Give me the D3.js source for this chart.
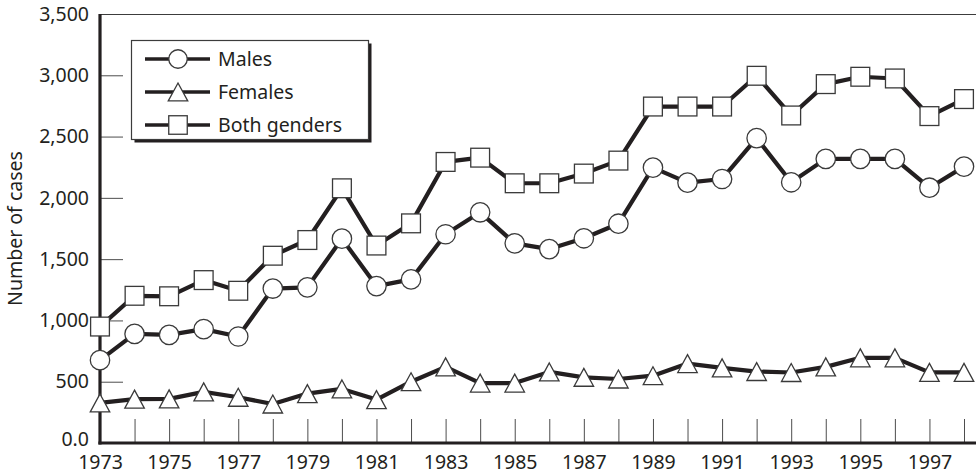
<!DOCTYPE html>
<html>
<head>
<meta charset="utf-8">
<script src="https://cdn.jsdelivr.net/npm/d3@7"></script>
<style>
  body { margin: 0; background: #fff; }
  svg { display: block; font-family: "Noto Sans", sans-serif; }
</style>
</head>
<body>
<svg id="chart" width="976" height="474"></svg>
<script>
// ----- Data -----
const years = d3.range(1973, 1999);
const males = [676, 890, 882, 929, 869, 1260, 1270, 1667, 1280, 1335, 1703, 1882, 1629,
               1582, 1670, 1789, 2247, 2124, 2154, 2487, 2127, 2318, 2318, 2318, 2083, 2255];
const females = [327, 358, 360, 417, 373, 318, 403, 441, 354, 500, 621, 489, 489,
                 580, 536, 522, 549, 648, 613, 583, 575, 621, 695, 695, 576, 576];
const both = [950, 1201, 1197, 1329, 1242, 1528, 1656, 2078, 1611, 1792, 2293, 2328, 2119,
              2119, 2198, 2304, 2745, 2745, 2745, 2996, 2672, 2928, 2988, 2974, 2667, 2806];
const yTicks = [0, 500, 1000, 1500, 2000, 2500, 3000, 3500];
const xLabelYears = d3.range(1973, 1998, 2);
const seriesNames = ["Males", "Females", "Both genders"];
const yTitle = "Number of cases";

// ----- Layout -----
const W = 976, H = 474;
const PLOT = { left: 100, right: 976, top: 14, bottom: 443 };
const INK = "#231f20";
const TICK_INK = "#4d4d4d";
const FONT_SIZE = "19.5px";

const svg = d3.select("#chart");

const x = d3.scaleLinear().domain([1973, 1998]).range([PLOT.left, 964]);
const y = d3.scaleLinear().domain([0, 3500]).range([PLOT.bottom, PLOT.top]);

// ----- Marker shapes -----
function drawMarker(g, shape, cx, cy, s) {
  if (shape === "circle") {
    g.append("circle").attr("cx", cx).attr("cy", cy).attr("r", s / 2);
  } else if (shape === "square") {
    g.append("rect").attr("x", cx - s / 2).attr("y", cy - s / 2)
      .attr("width", s).attr("height", s);
  } else {
    const h = s * 0.92;
    g.append("path").attr("d",
      `M${cx},${cy - h / 2}L${cx + s / 2},${cy + h / 2}L${cx - s / 2},${cy + h / 2}Z`);
  }
}

// ----- Axes -----
// y axis: ticks point into the plot
const yAxis = d3.axisLeft(y)
  .tickValues(yTicks)
  .tickSize(-23)
  .tickPadding(11)
  .tickFormat(d => d === 0 ? "0.0" : d3.format(",")(d));

const yG = svg.append("g").attr("transform", `translate(${PLOT.left},0)`).call(yAxis);
yG.select(".domain").remove();
yG.selectAll(".tick line")
  .attr("stroke", TICK_INK)
  .attr("stroke-width", 1)
  .filter(d => d === 0 || d === 3500).remove();
yG.selectAll("text").attr("fill", INK);
// the zero label sits a little above the axis line
yG.selectAll(".tick text").filter(d => d === 0).attr("y", -4);
yG.attr("font-family", "Noto Sans, sans-serif").attr("font-size", FONT_SIZE);

// x axis: a tick every year, labels on odd years
const xAxis = d3.axisBottom(x)
  .tickValues(years)
  .tickSize(-24)
  .tickPadding(12)
  .tickFormat(d => xLabelYears.includes(d) ? String(d) : "");

const xG = svg.append("g").attr("transform", `translate(0,${PLOT.bottom})`).call(xAxis);
xG.select(".domain").remove();
xG.selectAll(".tick line")
  .attr("stroke", TICK_INK)
  .attr("stroke-width", 1)
  .filter(d => d === 1973).remove();
xG.selectAll("text").attr("fill", INK);
xG.attr("font-family", "Noto Sans, sans-serif").attr("font-size", FONT_SIZE);

// Frame: thin top rule, heavy left and bottom axis lines
svg.append("line")
  .attr("x1", PLOT.left).attr("x2", PLOT.right)
  .attr("y1", PLOT.top + 0.5).attr("y2", PLOT.top + 0.5)
  .attr("stroke", "#3c3c3c").attr("stroke-width", 1.2);
svg.append("line")
  .attr("x1", PLOT.left).attr("x2", PLOT.left)
  .attr("y1", PLOT.top).attr("y2", PLOT.bottom + 1.5)
  .attr("stroke", INK).attr("stroke-width", 3.2);
svg.append("line")
  .attr("x1", PLOT.left - 1.6).attr("x2", PLOT.right)
  .attr("y1", PLOT.bottom).attr("y2", PLOT.bottom)
  .attr("stroke", INK).attr("stroke-width", 3.2);

// y title
svg.append("text")
  .attr("transform", `translate(22,${(PLOT.top + PLOT.bottom) / 2}) rotate(-90)`)
  .attr("text-anchor", "middle")
  .attr("font-size", FONT_SIZE)
  .attr("fill", INK)
  .text(yTitle);

// ----- Series -----
const series = [
  { name: seriesNames[0], values: males, shape: "circle", size: 19.4 },
  { name: seriesNames[1], values: females, shape: "triangle", size: 19.5 },
  { name: seriesNames[2], values: both, shape: "square", size: 18.8 }
];

const line = d3.line().x((d, i) => x(years[i])).y(d => y(d));

const linesG = svg.append("g");
series.forEach(s => {
  linesG.append("path")
    .attr("d", line(s.values))
    .attr("fill", "none")
    .attr("stroke", INK)
    .attr("stroke-width", 4.2)
    .attr("stroke-linejoin", "round");
});

const markersG = svg.append("g")
  .attr("fill", "#fff")
  .attr("stroke", "#3a3a3a")
  .attr("stroke-width", 1.3);
series.forEach(s => {
  s.values.forEach((v, i) => drawMarker(markersG, s.shape, x(years[i]), y(v), s.size));
});

// ----- Legend -----
const LEG = { x: 131.5, y: 40.5, w: 237, h: 99 };
const legend = svg.append("g");
legend.append("rect")
  .attr("x", LEG.x + 3).attr("y", LEG.y + 3)
  .attr("width", LEG.w).attr("height", LEG.h)
  .attr("fill", INK);
legend.append("rect")
  .attr("x", LEG.x).attr("y", LEG.y)
  .attr("width", LEG.w).attr("height", LEG.h)
  .attr("fill", "#fff")
  .attr("stroke", "#3c3c3c")
  .attr("stroke-width", 1.2);

const rowY = [59, 92, 125];
series.forEach((s, i) => {
  const ry = rowY[i];
  legend.append("line")
    .attr("x1", 145).attr("x2", 210)
    .attr("y1", ry).attr("y2", ry)
    .attr("stroke", INK).attr("stroke-width", 3.4);
  const mg = legend.append("g").attr("fill", "#fff").attr("stroke", "#3a3a3a").attr("stroke-width", 1.3);
  drawMarker(mg, s.shape, 178, ry, s.shape === "triangle" ? 19.5 : 18.5);
  legend.append("text")
    .attr("x", 218)
    .attr("y", ry)
    .attr("dy", "0.35em")
    .attr("font-size", FONT_SIZE)
    .attr("fill", INK)
    .text(s.name);
});
</script>
</body>
</html>
